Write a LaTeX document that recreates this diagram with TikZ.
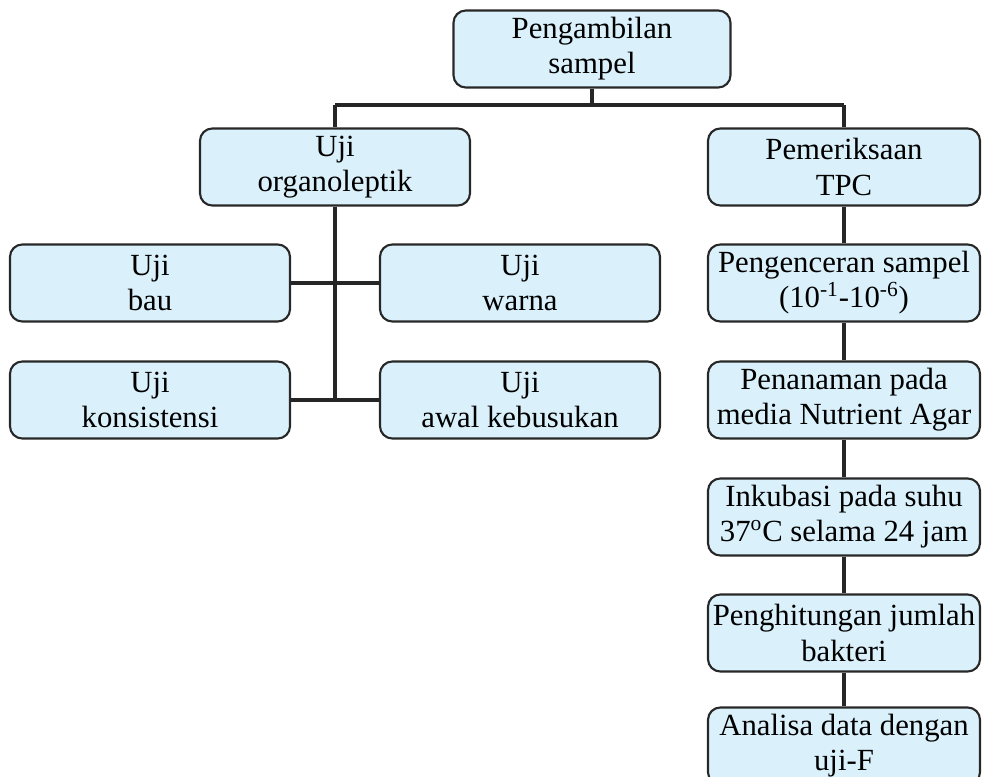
\documentclass[tikz,border=0pt]{standalone}
\usepackage{fontspec}
\setmainfont{Liberation Serif}
\definecolor{isi}{RGB}{218,241,251}
\definecolor{tepi}{RGB}{40,40,40}

\begin{document}
\begin{tikzpicture}[
  kotak/.style={draw=tepi,line width=1.2pt,fill=isi,rounded corners=7pt,
    align=center,inner sep=2pt,minimum height=1.54cm,
    font=\fontsize{17.5}{20}\selectfont},
  garis/.style={line width=2.2pt,black!85}]
\useasboundingbox (0,0) rectangle (19.66,-15.54);
\clip (0,0) rectangle (19.66,-15.54);

\node[kotak,minimum width=5.54cm] (sampel) at (11.84,-0.98) {Pengambilan\\sampel};

\node[kotak,minimum width=5.4cm] (organo) at (6.70,-3.34) {Uji\\organoleptik};
\node[kotak,minimum width=5.44cm] (tpc) at (16.88,-3.34) {Pemeriksaan\\TPC};

\node[kotak,minimum width=5.6cm] (bau) at (3.0,-5.66) {Uji\\bau};
\node[kotak,minimum width=5.6cm] (warna) at (10.4,-5.66) {Uji\\warna};
\node[kotak,minimum width=5.6cm] (konsis) at (3.0,-8.0) {Uji\\konsistensi};
\node[kotak,minimum width=5.6cm] (busuk) at (10.4,-8.0) {Uji\\awal kebusukan};

\node[kotak,minimum width=5.44cm] (encer) at (16.88,-5.66) {Pengenceran sampel\\(10\textsuperscript{-1}-10\textsuperscript{-6})};
\node[kotak,minimum width=5.44cm] (tanam) at (16.88,-8.0) {Penanaman pada\\media Nutrient Agar};
\node[kotak,minimum width=5.44cm] (inkub) at (16.88,-10.34) {Inkubasi pada suhu\\37\textsuperscript{o}C selama 24 jam};
\node[kotak,minimum width=5.44cm] (hitung) at (16.88,-12.66) {Penghitungan jumlah\\bakteri};
\node[kotak,minimum width=5.44cm] (analisa) at (16.88,-14.92) {Analisa data dengan\\uji-F};

\coordinate (cabang) at (11.84,-2.10);
%\draw[red] (0,0) grid (19,-15);

\draw[garis] (sampel.south) -- (cabang);
\draw[garis] (organo.north |- cabang) -- (tpc.north |- cabang);
\draw[garis] (organo.north |- cabang) -- (organo.north);
\draw[garis] (tpc.north |- cabang) -- (tpc.north);

\draw[garis] (organo.south) -- (organo.south |- busuk.west);
\draw[garis] (bau.east) -- (warna.west);
\draw[garis] (konsis.east) -- (busuk.west);

\draw[garis] (tpc) -- (encer);
\draw[garis] (encer) -- (tanam);
\draw[garis] (tanam) -- (inkub);
\draw[garis] (inkub) -- (hitung);
\draw[garis] (hitung) -- (analisa);
\end{tikzpicture}
\end{document}
